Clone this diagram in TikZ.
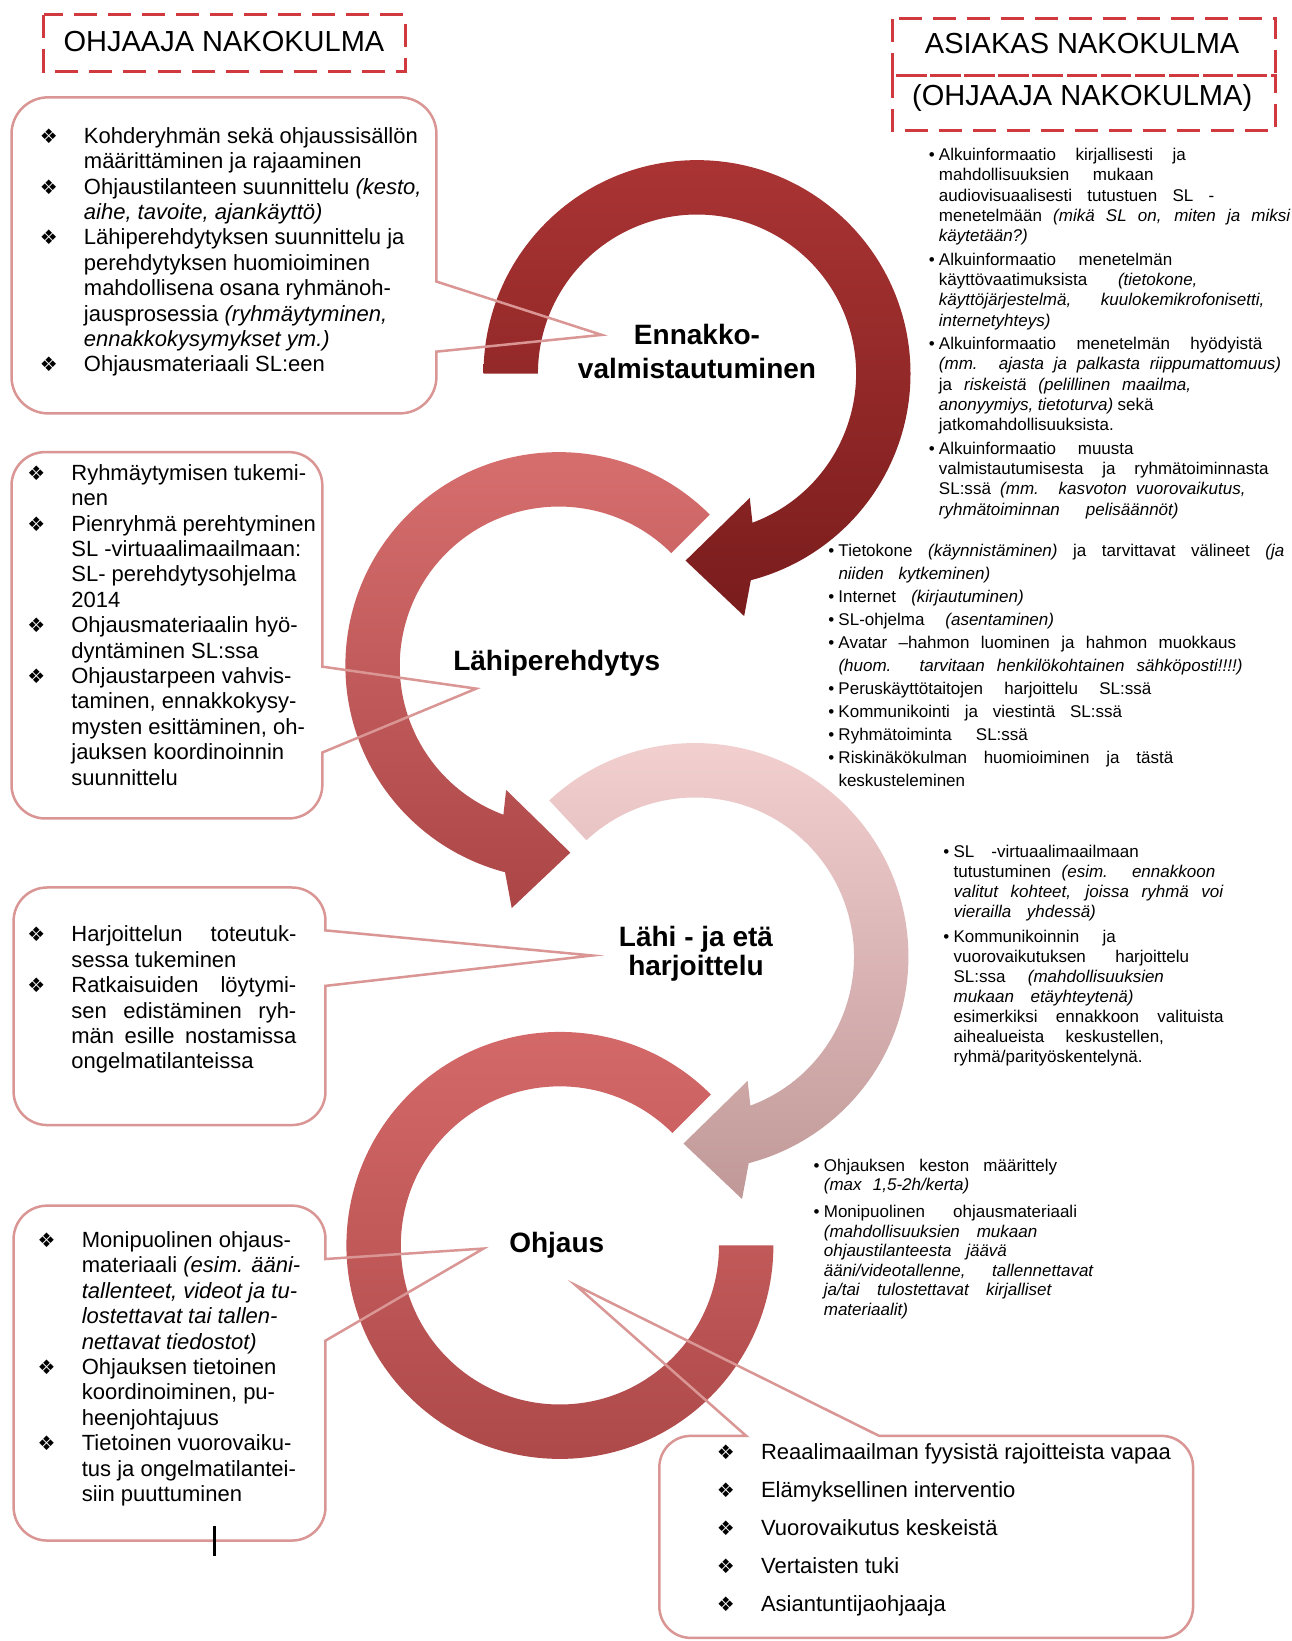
\documentclass[tikz,border=0pt]{standalone}
\usepackage{fontspec}
\setmainfont{Liberation Sans}
\newfontfamily\dejavu{DejaVu Sans}
\usepackage{tikz}
\usetikzlibrary{calc}

\definecolor{boxred}{RGB}{217,150,148}
\definecolor{dashred}{RGB}{208,58,62}
\definecolor{arconetop}{RGB}{170,52,52}
\definecolor{arconebot}{RGB}{122,28,28}
\definecolor{arctwotop}{RGB}{216,112,112}
\definecolor{arctwobot}{RGB}{172,70,70}
\definecolor{arcthreetop}{RGB}{245,210,210}
\definecolor{arcthreebot}{RGB}{192,152,152}
\definecolor{arcfourtop}{RGB}{214,106,106}
\definecolor{arcfourbot}{RGB}{172,72,72}

\newlength\pxu
\setlength\pxu{1.0462pt}
\newcommand{\jl}[2]{\makebox[#1\pxu][s]{#2}}
\newcommand{\diabul}{\llap{{\dejavu\fontsize{20}{20}\selectfont ❖}\hspace{25\pxu}}}
\newcommand{\dotbul}{\llap{•\hspace{4\pxu}}}

\begin{document}
\begin{tikzpicture}[x=1.0462pt, y=-1.0462pt,
    boxline/.style={draw=boxred, line width=2.5pt},
    dashbox/.style={draw=dashred, line width=3pt, dash pattern=on 23pt off 11pt},
    head/.style={font=\fontsize{29}{33}\selectfont},
    lbl/.style={font=\bfseries\fontsize{28}{33.5}\selectfont, align=center},
    ctext/.style={anchor=north west, inner sep=0pt, align=left, font=\fontsize{22}{25.4}\selectfont},
    stext/.style={anchor=north west, inner sep=0pt, align=left}]
    \fill[white] (0,0) rectangle (1234,1568);
    \useasboundingbox (0,0) rectangle (1234,1568);

    \coordinate (c1) at (666,357);
    \coordinate (c2) at (534,636);
    \coordinate (c3) at (664,914);
    \coordinate (c4) at (535,1190);

    % circular arrows, last one first
    \shade[top color=arcfourtop, bottom color=arcfourbot]
        ($(c4)+(-45:204)$) arc[start angle=-45, end angle=-360, radius=204]
        -- ($(c4)+(0:152)$) arc[start angle=-360, end angle=-45, radius=152] -- cycle;
    \shade[top color=arcthreetop, bottom color=arcthreebot]
        ($(c3)+(-133:204)$) arc[start angle=-133, end angle=75.4, radius=204]
        -- ($(c3)+(79:236)$) -- ($(c3)+(93.5:179)$) -- ($(c3)+(67:129)$)
        -- ($(c3)+(69.6:152)$) arc[start angle=69.6, end angle=-133, radius=152] -- cycle;
    \shade[top color=arctwotop, bottom color=arctwobot]
        ($(c2)+(-45:204)$) arc[start angle=-45, end angle=-255.4, radius=204]
        -- ($(c2)+(-259:236)$) -- ($(c2)+(-273.5:179)$) -- ($(c2)+(-247:129)$)
        -- ($(c2)+(-249.6:152)$) arc[start angle=-249.6, end angle=-45, radius=152] -- cycle;
    \shade[top color=arconetop, bottom color=arconebot]
        ($(c1)+(-180:204)$) arc[start angle=-180, end angle=75.4, radius=204]
        -- ($(c1)+(79:236)$) -- ($(c1)+(93.5:179)$) -- ($(c1)+(67:129)$)
        -- ($(c1)+(69.6:152)$) arc[start angle=69.6, end angle=-180, radius=152] -- cycle;

    \node[lbl] (ennakko) at (666,336) {Ennakko-\\valmistautuminen};
    \node[lbl] (lahi) at (532,634) {Lähiperehdytys};
    \node[lbl, font=\bfseries\fontsize{28}{29.3}\selectfont] (harj) at (665,911) {Lähi - ja etä\\harjoittelu};
    \node[lbl] (ohjaus) at (532,1190) {Ohjaus};

    % headers
    \draw[dashbox] (42,14) rectangle (387,68);
    \draw[dashbox] (853,18) rectangle (1219,72);
    \draw[dashbox] (853,72) rectangle (1219,125);
    \node[head] (ohjaaja) at (214,40) {OHJAAJA NAKOKULMA};
    \node[head] (asiakas) at (1034,42) {ASIAKAS NAKOKULMA};
    \node[head] (ohjaajab) at (1034,94) {(OHJAAJA NAKOKULMA)};

    % callouts
    \coordinate (tipa) at (575,320);
    \coordinate (tipb) at (455,658);
    \coordinate (tipc) at (566,913);
    \coordinate (tipd) at (462,1193);
    \coordinate (tipe) at (550,1228);
    \draw[boxline] (46,93) -- (382,93) arc[start angle=-90, end angle=0, radius=35]
        -- (417,269) -- (tipa) -- (417,336) -- (417,360) arc[start angle=0, end angle=90, radius=35]
        -- (46,395) arc[start angle=90, end angle=180, radius=35]
        -- (11,128) arc[start angle=180, end angle=270, radius=35] -- cycle;
    \draw[boxline] (43,432) -- (276,432) arc[start angle=-90, end angle=0, radius=32]
        -- (308,637) -- (tipb) -- (308,719) -- (308,750) arc[start angle=0, end angle=90, radius=32]
        -- (43,782) arc[start angle=90, end angle=180, radius=32]
        -- (11,464) arc[start angle=180, end angle=270, radius=32] -- cycle;
    \draw[boxline] (45,848) -- (279,848) arc[start angle=-90, end angle=0, radius=32]
        -- (311,889) -- (tipc) -- (311,942) -- (311,1043) arc[start angle=0, end angle=90, radius=32]
        -- (45,1075) arc[start angle=90, end angle=180, radius=32]
        -- (13,880) arc[start angle=180, end angle=270, radius=32] -- cycle;
    \draw[boxline] (45,1152) -- (279,1152) arc[start angle=-90, end angle=0, radius=32]
        -- (311,1203) -- (tipd) -- (311,1281) -- (311,1440) arc[start angle=0, end angle=90, radius=32]
        -- (45,1472) arc[start angle=90, end angle=180, radius=32]
        -- (13,1184) arc[start angle=180, end angle=270, radius=32] -- cycle;
    \draw[boxline] (660,1372) -- (713,1372) -- (tipe) -- (840,1372) -- (1110,1372)
        arc[start angle=-90, end angle=0, radius=30] -- (1140,1535)
        arc[start angle=0, end angle=90, radius=30] -- (660,1565)
        arc[start angle=90, end angle=180, radius=30] -- (630,1402)
        arc[start angle=180, end angle=270, radius=30] -- cycle;
    \draw[line width=3pt] (205,1458) -- (205,1487);

    \node[ctext] (lista) at (80,119.7) {\strut\diabul Kohderyhmän sekä ohjaussisällön\\
        määrittäminen ja rajaaminen\\
        \diabul Ohjaustilanteen suunnittelu \textit{(kesto,}\\
        \textit{aihe, tavoite, ajankäyttö)}\\
        \diabul Lähiperehdytyksen suunnittelu ja\\
        perehdytyksen huomioiminen\\
        mahdollisena osana ryhmänoh-\\
        jausprosessia \textit{(ryhmäytyminen,}\\
        \textit{ennakkokysymykset ym.)}\\
        \diabul Ohjausmateriaali SL:een};
    \node[ctext] (listb) at (68,441.7) {\strut\diabul Ryhmäytymisen tukemi-\\
        nen\\
        \diabul Pienryhmä perehtyminen\\
        SL -virtuaalimaailmaan:\\
        SL- perehdytysohjelma\\
        2014\\
        \diabul Ohjausmateriaalin hyö-\\
        dyntäminen SL:ssa\\
        \diabul Ohjaustarpeen vahvis-\\
        taminen, ennakkokysy-\\
        mysten esittäminen, oh-\\
        jauksen koordinoinnin\\
        suunnittelu};
    \node[ctext] (listc) at (68,882.7) {\strut\diabul\jl{215}{Harjoittelun toteutuk-}\\
        sessa tukeminen\\
        \diabul\jl{215}{Ratkaisuiden löytymi-}\\
        \jl{215}{sen edistäminen ryh-}\\
        \jl{215}{män esille nostamissa}\\
        ongelmatilanteissa};
    \node[ctext] (listd) at (78,1174.7) {\strut\diabul Monipuolinen ohjaus-\\
        materiaali \textit{(esim. ääni-}\\
        \textit{tallenteet, videot ja tu-}\\
        \textit{lostettavat tai tallen-}\\
        \textit{nettavat tiedostot)}\\
        \diabul Ohjauksen tietoinen\\
        koordinoiminen, pu-\\
        heenjohtajuus\\
        \diabul Tietoinen vuorovaiku-\\
        tus ja ongelmatilantei-\\
        siin puuttuminen};
    \node[ctext] (liste) at (727,1377.7) {\strut\diabul Reaalimaailman fyysistä rajoitteista vapaa\\[12.5pt]
        \diabul Elämyksellinen interventio\\[12.5pt]
        \diabul Vuorovaikutus keskeistä\\[12.5pt]
        \diabul Vertaisten tuki\\[12.5pt]
        \diabul Asiantuntijaohjaaja};

    % client side notes
    \node[stext, font=\fontsize{17}{20.3}\selectfont] (infoa) at (897,139.7) {\strut\dotbul\jl{236}{Alkuinformaatio kirjallisesti ja}\\
        \jl{205}{mahdollisuuksien mukaan}\\
        \jl{263}{audiovisuaalisesti tutustuen SL -}\\
        \jl{336}{menetelmään \textit{(mikä SL on, miten ja miksi}}\\
        \textit{käytetään?)}\\[3\pxu]
        \dotbul\jl{223}{Alkuinformaatio menetelmän}\\
        \jl{247}{käyttövaatimuksista \textit{(tietokone,}}\\
        \jl{311}{\textit{käyttöjärjestelmä, kuulokemikrofonisetti,}}\\
        \textit{internetyhteys)}\\[3\pxu]
        \dotbul\jl{309}{Alkuinformaatio menetelmän hyödyistä}\\
        \jl{327}{\textit{(mm. ajasta ja palkasta riippumattomuus)}}\\
        \jl{241}{ja \textit{riskeistä (pelillinen maailma,}}\\
        \jl{205}{\textit{anonyymiys, tietoturva)} sekä}\\
        jatkomahdollisuuksista.\\[3\pxu]
        \dotbul\jl{186}{Alkuinformaatio muusta}\\
        \jl{315}{valmistautumisesta ja ryhmätoiminnasta}\\
        \jl{293}{SL:ssä \textit{(mm. kasvoton vuorovaikutus,}}\\
        \jl{229}{\textit{ryhmätoiminnan pelisäännöt)}}};
    \node[stext, font=\fontsize{17}{23}\selectfont] (infob) at (801,516) {\strut\dotbul\jl{426}{Tietokone \textit{(käynnistäminen)} ja tarvittavat välineet \textit{(ja}}\\
        \jl{145}{\textit{niiden kytkeminen)}}\\
        \dotbul\jl{177}{Internet \textit{(kirjautuminen)}}\\
        \dotbul\jl{206}{SL-ohjelma \textit{(asentaminen)}}\\
        \dotbul\jl{380}{Avatar –hahmon luominen ja hahmon muokkaus}\\
        \jl{386}{\textit{(huom. tarvitaan henkilökohtainen sähköposti!!!!)}}\\
        \dotbul\jl{299}{Peruskäyttötaitojen harjoittelu SL:ssä}\\
        \dotbul\jl{271}{Kommunikointi ja viestintä SL:ssä}\\
        \dotbul\jl{181}{Ryhmätoiminta SL:ssä}\\
        \dotbul\jl{320}{Riskinäkökulman huomioiminen ja tästä}\\
        keskusteleminen};
    \node[stext, font=\fontsize{17}{20}\selectfont] (infoc) at (911,805.9) {\strut\dotbul\jl{177}{SL -virtuaalimaailmaan}\\
        \jl{250}{tutustuminen \textit{(esim. ennakkoon}}\\
        \jl{258}{\textit{valitut kohteet, joissa ryhmä voi}}\\
        \jl{136}{\textit{vierailla yhdessä)}}\\[5\pxu]
        \dotbul\jl{155}{Kommunikoinnin ja}\\
        \jl{225}{vuorovaikutuksen harjoittelu}\\
        \jl{201}{SL:ssa \textit{(mahdollisuuksien}}\\
        \jl{172}{\textit{mukaan etäyhteytenä)}}\\
        \jl{258}{esimerkiksi ennakkoon valituista}\\
        \jl{201}{aihealueista keskustellen,}\\
        ryhmä/parityöskentelynä.};
    \node[stext, font=\fontsize{17}{19.45}\selectfont] (infod) at (787,1106.2) {\strut\dotbul\jl{223}{Ohjauksen keston määrittely}\\
        \jl{139}{\textit{(max 1,5-2h/kerta)}}\\[7\pxu]
        \dotbul\jl{242}{Monipuolinen ohjausmateriaali}\\
        \jl{204}{\textit{(mahdollisuuksien mukaan}}\\
        \jl{175}{\textit{ohjaustilanteesta jäävä}}\\
        \jl{258}{\textit{ääni/videotallenne, tallennettavat}}\\
        \jl{218}{\textit{ja/tai tulostettavat kirjalliset}}\\
        \textit{materiaalit)}};
\end{tikzpicture}
\end{document}
